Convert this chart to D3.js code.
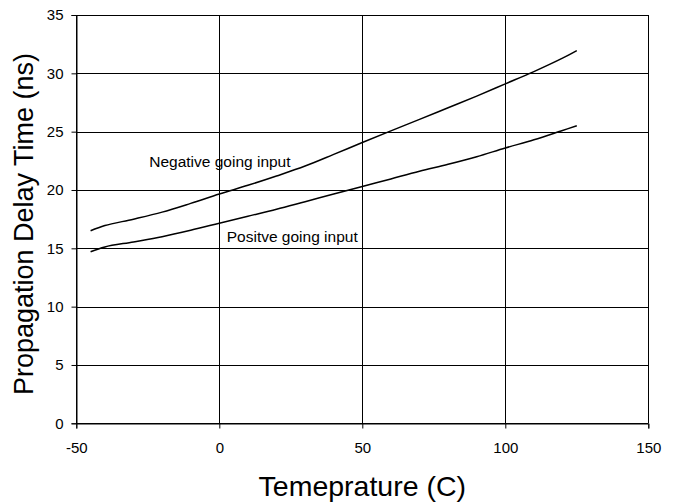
<!DOCTYPE html>
<html>
<head>
<meta charset="utf-8">
<script src="https://cdn.jsdelivr.net/npm/d3@7/dist/d3.min.js"></script>
<style>
html,body{margin:0;padding:0;background:#fff;}
svg{display:block;font-family:"Liberation Sans",Arial,sans-serif;}
</style>
</head>
<body>
<svg id="chart" width="678" height="503"></svg>
<script>
const temps    = [-45, -40, -30, -20, -10, 0, 10, 20, 30, 40, 50, 60, 70, 80, 90, 100, 110, 120, 125];
const negative = [16.5, 16.95, 17.5, 18.1, 18.85, 19.65, 20.4, 21.2, 22.05, 23.05, 24.07, 25.07, 26.05, 27.05, 28.05, 29.1, 30.15, 31.3, 31.95];
const positive = [14.7, 15.12, 15.55, 16.0, 16.55, 17.15, 17.75, 18.35, 19.0, 19.65, 20.3, 20.95, 21.6, 22.2, 22.85, 23.6, 24.3, 25.1, 25.5];
const xTicks = [-50, 0, 50, 100, 150];
const yTicks = [0, 5, 10, 15, 20, 25, 30, 35];
const seriesLabels = [
  {text: "Negative going input", x: -24.5, y: 22.0},
  {text: "Positve going input", x: 2.6, y: 15.55}
];

const svg = d3.select("#chart");
const mLeft = 76.3, mRight = 648.3, mTop = 15, mBottom = 423.3;
const x = d3.scaleLinear().domain([-50, 150]).range([mLeft, mRight]);
const y = d3.scaleLinear().domain([0, 35]).range([mBottom, mTop]);

// grid
const g = svg.append("g");
g.selectAll("line.h").data(yTicks).enter().append("line")
  .attr("x1", mLeft).attr("x2", mRight)
  .attr("y1", d => Math.round(y(d)) + 0.5).attr("y2", d => Math.round(y(d)) + 0.5)
  .attr("stroke", "#000").attr("stroke-width", 1);
g.selectAll("line.v").data(xTicks).enter().append("line")
  .attr("y1", mTop).attr("y2", mBottom)
  .attr("x1", d => Math.round(x(d)) + 0.5).attr("x2", d => Math.round(x(d)) + 0.5)
  .attr("stroke", "#000").attr("stroke-width", 1);

// axes
const fmt = d => String(d);
const yAxis = d3.axisLeft(y).tickValues(yTicks).tickSize(5).tickPadding(8).tickFormat(fmt);
const xAxis = d3.axisBottom(x).tickValues(xTicks).tickSize(5).tickPadding(14).tickFormat(fmt);
const ya = svg.append("g").attr("transform", `translate(${Math.round(mLeft)+0.5},0)`).call(yAxis);
const xa = svg.append("g").attr("transform", `translate(0,${Math.round(mBottom)+0.5})`).call(xAxis);
[ya, xa].forEach(a => {
  a.select(".domain").attr("stroke", "#000");
  a.selectAll(".tick line").attr("stroke", "#000");
  a.selectAll(".tick text").attr("fill", "#000").style("font-size", "15px")
    .style("font-family", '"Liberation Sans",Arial,sans-serif');
});

// lines
const line = d3.line().x(d => x(d[0])).y(d => y(d[1])).curve(d3.curveCatmullRom.alpha(0.5));
[negative, positive].forEach(s => {
  svg.append("path").datum(temps.map((t, i) => [t, s[i]]))
    .attr("d", line).attr("fill", "none").attr("stroke", "#000").attr("stroke-width", 1.5);
});

// series labels
svg.selectAll("text.lab").data(seriesLabels).enter().append("text")
  .attr("x", d => x(d.x)).attr("y", d => y(d.y))
  .style("font-size", "15.5px").attr("fill", "#000").text(d => d.text);

// axis titles
svg.append("text").attr("x", (mLeft + mRight) / 2).attr("y", 496)
  .attr("text-anchor", "middle").style("font-size", "28.5px").text("Temeprature (C)");
svg.append("text").attr("transform", `translate(33,224) rotate(-90)`)
  .attr("text-anchor", "middle").style("font-size", "27px").text("Propagation Delay Time (ns)");
</script>
</body>
</html>
